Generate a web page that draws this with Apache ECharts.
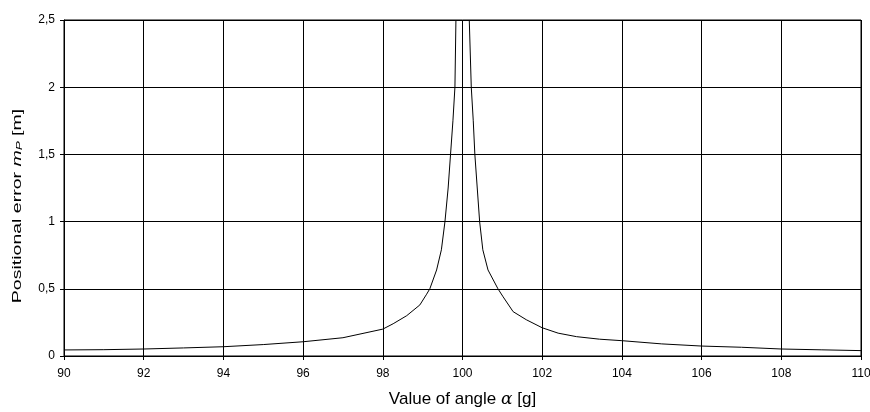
<!DOCTYPE html>
<html>
<head>
<meta charset="utf-8">
<script src="https://cdn.jsdelivr.net/npm/echarts@6/dist/echarts.min.js"></script>
<style>
  html, body { margin: 0; padding: 0; background: #fff; }
  #chart { width: 870px; height: 412px; }
</style>
</head>
<body>
<div id="chart"></div>
<script>
// angle values [g] and positional error [m]
var leftAngle = [90, 91, 92, 93, 94, 95, 96, 97, 98, 98.26, 98.6, 98.93, 99.1, 99.18, 99.35, 99.47, 99.56, 99.64, 99.7, 99.76, 99.81, 99.835];
var leftError = [0.045, 0.047, 0.052, 0.06, 0.069, 0.085, 0.106, 0.136, 0.2, 0.24, 0.3, 0.38, 0.46, 0.5, 0.64, 0.79, 1.0, 1.25, 1.5, 1.75, 2.0, 2.5];
var rightAngle = [100.17, 100.22, 100.27, 100.31, 100.37, 100.43, 100.51, 100.64, 100.89, 101.02, 101.27, 101.6, 102, 102.4, 102.86, 103.44, 104, 105, 106, 107, 108, 109, 110];
var rightError = [2.5, 2.0, 1.75, 1.5, 1.25, 1.0, 0.79, 0.64, 0.5, 0.44, 0.33, 0.27, 0.21, 0.17, 0.144, 0.125, 0.114, 0.09, 0.074, 0.065, 0.052, 0.046, 0.04];

var points = [];
leftAngle.forEach(function (a, i) { points.push([a, leftError[i]]); });
points.push([100, null]);
rightAngle.forEach(function (a, i) { points.push([a, rightError[i]]); });

var chart = echarts.init(document.getElementById('chart'));
var font = 'Liberation Sans, Arial, sans-serif';

chart.setOption({
    animation: false,
    grid: {
        left: 64, right: 9, top: 20, bottom: 56,
        outerBoundsMode: 'none',
        show: true, borderColor: '#000', borderWidth: 1
    },
    xAxis: {
        type: 'value',
        min: 90, max: 110, interval: 2,
        name: '{n|Value of angle }{a|α}{n| [g]}',
        nameLocation: 'middle',
        nameGap: 35,
        nameTextStyle: {
            rich: {
                n: { fontFamily: font, fontSize: 17, color: '#000' },
                a: { fontFamily: 'DejaVu Serif, serif', fontStyle: 'italic', fontSize: 17, color: '#000' }
            }
        },
        axisLine: { show: true, onZero: false, lineStyle: { color: '#000' } },
        axisTick: { show: true, length: 4, inside: false, lineStyle: { color: '#000' } },
        axisLabel: { color: '#000', fontFamily: font, fontSize: 12, margin: 12 },
        splitLine: { show: true, lineStyle: { color: '#000', width: 1 } }
    },
    yAxis: {
        type: 'value',
        min: 0, max: 2.5, interval: 0.5,
        axisLine: { show: true, lineStyle: { color: '#000' } },
        axisTick: { show: true, length: 4, lineStyle: { color: '#000' } },
        axisLabel: {
            color: '#000', fontFamily: font, fontSize: 12, margin: 9,
            formatter: function (v) { return String(v).replace('.', ','); }
        },
        splitLine: { show: true, lineStyle: { color: '#000', width: 1 } }
    },
    // y axis title, stretched along its length like the original
    graphic: [{
        type: 'text',
        x: 17,
        y: 206,
        rotation: Math.PI / 2,
        scaleX: 1.5,
        scaleY: 1,
        style: {
            text: '{n|Positional error }{m|m}{s|P}{n| [m]}',
            align: 'center',
            verticalAlign: 'middle',
            rich: {
                n: { fontFamily: font, fontSize: 13, fill: '#000' },
                m: { fontFamily: font, fontStyle: 'italic', fontSize: 13, fill: '#000' },
                s: { fontFamily: font, fontStyle: 'italic', fontSize: 9, fill: '#000', padding: [5, 0, 0, 0] }
            }
        }
    }],
    series: [{
        type: 'line',
        data: points,
        showSymbol: false,
        symbol: 'none',
        connectNulls: false,
        clip: true,
        lineStyle: { color: '#000', width: 1 }
    }]
});
</script>
</body>
</html>
